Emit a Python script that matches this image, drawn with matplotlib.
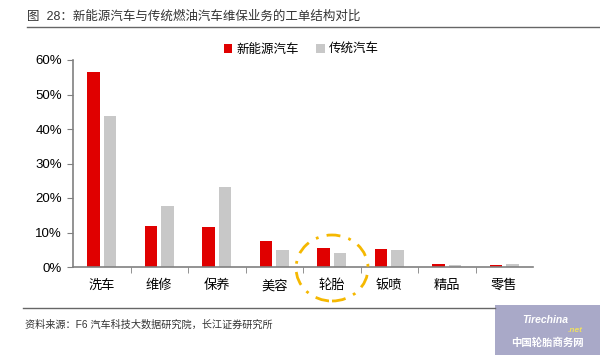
import matplotlib.pyplot as plt
import numpy as np
from matplotlib.patches import Ellipse, Rectangle
from matplotlib.ticker import PercentFormatter, FixedLocator

plt.rcParams['font.family'] = ['Liberation Sans', 'Noto Sans CJK SC', 'DejaVu Sans']

# data
categories = ['洗车', '维修', '保养', '美容', '轮胎', '钣喷', '精品', '零售']
new_energy = [56.5, 11.8, 11.5, 7.6, 5.4, 5.1, 1.0, 0.7]
fuel_cars = [43.8, 17.7, 23.1, 4.8, 4.1, 4.8, 0.7, 0.8]
yticks = [0, 10, 20, 30, 40, 50, 60]

W, H = 600, 355
fig = plt.figure(figsize=(6, 3.55), dpi=100)

def px(x0, y0, x1, y1):
    # pixel box -> figure fraction
    return [x0 / W, 1 - y1 / H, (x1 - x0) / W, (y1 - y0) / H]

ax = fig.add_axes(px(73, 60, 533, 267))
x = np.arange(len(categories))
ax.bar(x - 0.145, new_energy, width=0.22, color='#E00000', label='新能源汽车')
ax.bar(x + 0.145, fuel_cars, width=0.22, color='#C8C8C8', label='传统汽车')

ax.set_xlim(-0.5, len(categories) - 0.5)
ax.set_ylim(0, 60)
ax.set_yticks(yticks)
ax.yaxis.set_major_formatter(PercentFormatter(decimals=0))
ax.set_xticks(x)
ax.set_xticklabels(categories)
ax.xaxis.set_minor_locator(FixedLocator(np.arange(0.5, len(categories) - 1, 1)))
ax.tick_params(axis='x', which='major', length=0, pad=9, labelsize=9.5)
ax.tick_params(axis='x', which='minor', length=4, color='#808080', direction='out')
ax.tick_params(axis='y', length=4, color='#808080', labelsize=9.5, pad=4)
for s in ['top', 'right']:
    ax.spines[s].set_visible(False)
for s in ['left', 'bottom']:
    ax.spines[s].set_color('#808080')
    ax.spines[s].set_linewidth(1.2)

leg = fig.legend(loc='center', bbox_to_anchor=(301 / W, 1 - 50 / H), ncol=2,
                 frameon=False, fontsize=9, handlelength=0.7, handleheight=0.7,
                 handletextpad=0.3, columnspacing=1.4)

# highlight circle around 轮胎
circ = Ellipse((332 / W, 1 - 268 / H), 72 / W, 66 / H, transform=fig.transFigure,
               fill=False, edgecolor='#F5B800', linewidth=2, linestyle=(0, (5, 3, 1, 3)),
               clip_on=False)
fig.add_artist(circ)

# title and rules
fig.text(27 / W, 1 - 17 / H, '图  28：新能源汽车与传统燃油汽车维保业务的工单结构对比',
         fontsize=9, va='center', ha='left', color='#333333')
fig.add_artist(plt.Line2D([27 / W, 1], [1 - 27 / H] * 2, color='#666666', lw=1,
                          transform=fig.transFigure))
fig.add_artist(plt.Line2D([23 / W, 495 / W], [1 - 308 / H] * 2, color='#666666', lw=1,
                          transform=fig.transFigure))
fig.text(25 / W, 1 - 325 / H, '资料来源：F6 汽车科技大数据研究院，长江证券研究所',
         fontsize=7.3, va='center', ha='left', color='#333333')

# watermark box
fig.add_artist(Rectangle((495 / W, 0), 105 / W, 50 / H, transform=fig.transFigure,
                         facecolor='#A9A9C8', edgecolor='none'))
fig.text(545 / W, 1 - 320 / H, 'Tirechina', fontsize=7.5, style='italic',
         fontweight='bold', color='white', ha='center', va='center')
fig.text(575 / W, 1 - 330 / H, '.net', fontsize=6, style='italic',
         fontweight='bold', color='#F0E060', ha='center', va='center')
fig.text(547 / W, 1 - 343 / H, '中国轮胎商务网', fontsize=7.5, fontweight='bold',
         color='white', ha='center', va='center')

fig.savefig('out.png', dpi=100)
